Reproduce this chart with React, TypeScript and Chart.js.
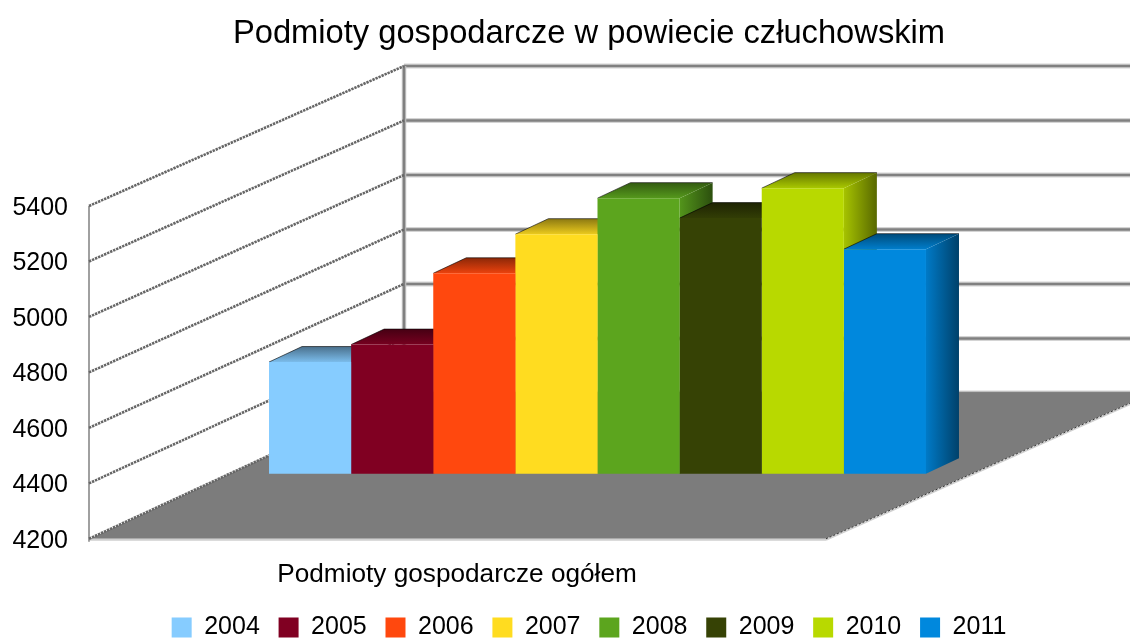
import React, { useEffect, useRef } from "react";
import { Chart, registerables } from "chart.js";

Chart.register(...registerables);

const title = "Podmioty gospodarcze w powiecie człuchowskim";
const category = "Podmioty gospodarcze ogółem";
const years = ["2004", "2005", "2006", "2007", "2008", "2009", "2010", "2011"];
const values = [4603, 4666, 4923, 5064, 5194, 5122, 5230, 5010];
const colors = ["#86ccff", "#800022", "#ff480e", "#ffdc20", "#5ca51e", "#364205", "#b8d900", "#0088dd"];
const yMin = 4200;
const yMax = 5400;
const yStep = 200;

const FONT = "'Liberation Sans', Arial, sans-serif";
const BAR_SHIFT = { x: -12.5, y: -65 };
const BAR_DEPTH = { x: 33, y: -15.5 };
const WALL = { x: 404, floorBack: 393, topBack: 66 };
const FRONT_RIGHT = 826;

function shade(hex: string, f: number) {
  const n = parseInt(hex.slice(1), 16);
  const c = [(n >> 16) & 255, (n >> 8) & 255, n & 255].map((v) => Math.round(v * f));
  return `rgb(${c[0]},${c[1]},${c[2]})`;
}

function drawBarDepth(ctx: any, bar: any, base: string) {
  const l = bar.x - bar.width / 2;
  const r = bar.x + bar.width / 2;
  const t = bar.y;
  const b = bar.base;
  const dx = BAR_DEPTH.x;
  const dy = BAR_DEPTH.y;
  // right side
  const sg = ctx.createLinearGradient(r, 0, r + dx, 0);
  sg.addColorStop(0, shade(base, 0.9));
  sg.addColorStop(1, shade(base, 0.48));
  ctx.fillStyle = sg;
  ctx.beginPath();
  ctx.moveTo(r, t);
  ctx.lineTo(r + dx, t + dy);
  ctx.lineTo(r + dx, b + dy);
  ctx.lineTo(r, b);
  ctx.closePath();
  ctx.fill();
  // top
  const tg = ctx.createLinearGradient(0, t + dy, 0, t);
  tg.addColorStop(0, shade(base, 0.55));
  tg.addColorStop(1, shade(base, 0.92));
  ctx.fillStyle = tg;
  ctx.beginPath();
  ctx.moveTo(l, t);
  ctx.lineTo(l + dx, t + dy);
  ctx.lineTo(r + dx, t + dy);
  ctx.lineTo(r, t);
  ctx.closePath();
  ctx.fill();
  // dark rear outline
  ctx.strokeStyle = "rgba(0,0,0,0.6)";
  ctx.lineWidth = 1;
  ctx.beginPath();
  ctx.moveTo(l, t);
  ctx.lineTo(l + dx, t + dy);
  ctx.lineTo(r + dx, t + dy);
  ctx.stroke();
}

const threeD = {
  id: "threeD",
  afterLayout(chart: any) {
    // the tick labels hang into the left padding, so they must not be clipped there
    chart.scales.y.left = 0;
  },
  beforeDatasetsDraw(chart: any) {
    const { ctx, chartArea, scales } = chart;
    const y = scales.y;
    const left = chartArea.left;
    const bottom = chartArea.bottom;
    const backY = (v: number) =>
      WALL.floorBack - ((v - yMin) / (yMax - yMin)) * (WALL.floorBack - WALL.topBack);
    ctx.save();
    // back wall
    for (const v of y.ticks.map((t: any) => t.value)) {
      const by = backY(v);
      for (const [w, col] of [[5, "#d4d4d4"], [2.5, "#808080"]] as [number, string][]) {
        ctx.strokeStyle = col;
        ctx.lineWidth = w;
        ctx.beginPath();
        ctx.moveTo(WALL.x, by);
        ctx.lineTo(1130, by);
        ctx.stroke();
      }
    }
    for (const [w, col] of [[4.5, "#c8c8c8"], [2.5, "#808080"]] as [number, string][]) {
      ctx.strokeStyle = col;
      ctx.lineWidth = w;
      ctx.beginPath();
      ctx.moveTo(WALL.x, WALL.topBack);
      ctx.lineTo(WALL.x, WALL.floorBack);
      ctx.stroke();
    }
    // floor
    ctx.fillStyle = "#7c7c7c";
    ctx.beginPath();
    ctx.moveTo(left, bottom);
    ctx.lineTo(FRONT_RIGHT, bottom);
    ctx.lineTo(1153, WALL.floorBack);
    ctx.lineTo(WALL.x, WALL.floorBack);
    ctx.closePath();
    ctx.fill();
    // floor edges
    ctx.strokeStyle = "#d0d0d0";
    ctx.lineWidth = 2;
    ctx.beginPath();
    ctx.moveTo(left, bottom + 1);
    ctx.lineTo(FRONT_RIGHT, bottom + 1);
    ctx.moveTo(FRONT_RIGHT, bottom + 1);
    ctx.lineTo(1155, WALL.floorBack);
    ctx.stroke();
    ctx.strokeStyle = "#333";
    ctx.lineWidth = 1;
    ctx.setLineDash([2, 2]);
    ctx.beginPath();
    ctx.moveTo(FRONT_RIGHT, bottom);
    ctx.lineTo(1153, WALL.floorBack);
    ctx.stroke();
    ctx.setLineDash([]);
    // left wall
    ctx.strokeStyle = "#808080";
    ctx.lineWidth = 1.5;
    ctx.beginPath();
    ctx.moveTo(left - 1, y.getPixelForValue(yMax));
    ctx.lineTo(left - 1, bottom + 3);
    ctx.stroke();
    ctx.strokeStyle = "#666666";
    ctx.lineWidth = 2.6;
    ctx.setLineDash([2.4, 0.9]);
    for (const t of y.ticks) {
      ctx.beginPath();
      ctx.moveTo(left - 1, y.getPixelForValue(t.value));
      ctx.lineTo(WALL.x, backY(t.value));
      ctx.stroke();
    }
    ctx.setLineDash([]);
    // depth faces of the bars, left to right; each bar's front is drawn later by the library
    ctx.translate(BAR_SHIFT.x, BAR_SHIFT.y);
    chart.data.datasets.forEach((ds: any, i: number) => {
      drawBarDepth(ctx, chart.getDatasetMeta(i).data[0], ds.backgroundColor);
    });
    ctx.restore();
  },
  beforeDatasetDraw(chart: any) {
    chart.ctx.save();
    chart.ctx.translate(BAR_SHIFT.x, BAR_SHIFT.y);
  },
  afterDatasetDraw(chart: any) {
    chart.ctx.restore();
  },
};

export default function App() {
  const ref = useRef<HTMLCanvasElement | null>(null);
  useEffect(() => {
    const chart = new Chart(ref.current as HTMLCanvasElement, {
      type: "bar",
      data: {
        labels: [category],
        datasets: years.map((year, i) => ({
          label: year,
          data: [values[i]],
          base: yMin,
          backgroundColor: colors[i],
          borderWidth: 0,
          clip: false as any,
          barPercentage: 1,
          categoryPercentage: 0.6317,
        })),
      },
      options: {
        responsive: false,
        animation: false,
        layout: { padding: { left: 48, right: 0, top: 0, bottom: -11 } },
        scales: {
          x: {
            grid: { display: false, drawTicks: false },
            border: { display: false },
            afterFit: (s: any) => {
              s.height = 57.4;
            },
            ticks: {
              color: "#000",
              font: { family: FONT, size: 26.2 },
              padding: 20.5,
              labelOffset: -153,
              maxRotation: 0,
            },
          },
          y: {
            min: yMin,
            max: yMax,
            grid: { display: false, drawTicks: false },
            border: { display: false },
            afterFit: (s: any) => {
              s.width = 42;
            },
            ticks: {
              stepSize: yStep,
              color: "#000",
              font: { family: FONT, size: 25 },
              padding: 22,
              labelOffset: 2,
              callback: (v: any) => String(v),
            },
          },
        },
        plugins: {
          title: {
            display: true,
            text: title,
            color: "#000",
            font: { family: FONT, size: 32.7, weight: "normal" },
            padding: { top: 14, bottom: 152.76 },
          },
          legend: {
            display: true,
            position: "bottom",
            labels: {
              color: "#000",
              font: { family: FONT, size: 25 },
              boxWidth: 20,
              boxHeight: 20,
              padding: 18.8,
            },
          },
          tooltip: { enabled: false },
        },
      },
      plugins: [threeD],
    });
    return () => chart.destroy();
  }, []);
  return (
    <div style={{ position: "absolute", left: 0, top: 0, width: 1130, height: 639 }}>
      <canvas ref={ref} width={1130} height={639} style={{ display: "block" }} />
    </div>
  );
}
